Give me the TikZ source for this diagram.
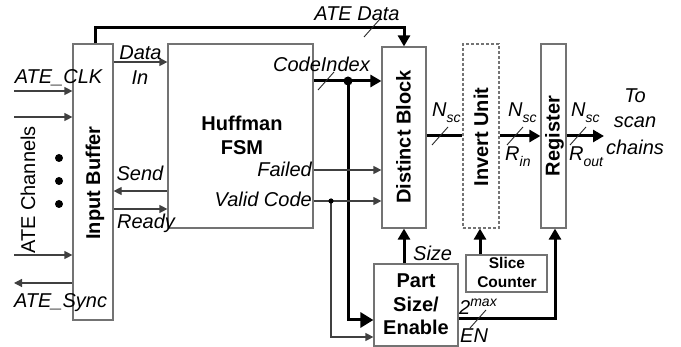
\documentclass[tikz,border=0pt]{standalone}
\usepackage{fontspec}
\setmainfont{Liberation Sans}
\usetikzlibrary{arrows.meta}
\newcommand{\lblsz}{\fontsize{20}{22}\selectfont}
\newcommand{\subsz}{\fontsize{14}{14}\selectfont}
\newcommand{\mysub}[1]{\raisebox{-5.5pt}{\subsz #1}}
\newcommand{\mysup}[1]{\raisebox{8pt}{\subsz #1}}
\begin{document}
\begin{tikzpicture}[x=1pt,y=-1pt,
  box/.style={draw=black!55,line width=1.2pt,inner sep=0pt,fill=white},
  lbl/.style={font=\lblsz\itshape,inner sep=0pt,anchor=base},
  up/.style={font=\lblsz,inner sep=0pt,anchor=base},
  bl/.style={font=\lblsz\bfseries,inner sep=0pt,anchor=base},
  wire/.style={draw=black!75,line width=1.2pt},
  bus/.style={draw=black,line width=3pt},
  tip/.style={-{Triangle[length=8pt,width=8pt]}},
  bigtip/.style={-{Triangle[length=11pt,width=12pt]}},
  hugetip/.style={-{Triangle[length=13pt,width=15pt]}},
  slash/.style={draw=black!85,line width=0.9pt},
  dot/.style={fill=black}
]
\useasboundingbox (0,0) rectangle (681,347);
% boxes
\node[box,minimum width=40pt,minimum height=276pt] (ib) at (93,182) {};
\node[box,minimum width=145pt,minimum height=184pt] (fsm) at (240.5,136) {};
\node[box,minimum width=44pt,minimum height=181pt] (db) at (404,137.5) {};
\node[box,dashed,dash pattern=on 3pt off 2pt,minimum width=36pt,minimum height=184pt] (iu) at (481,136) {};
\node[box,minimum width=25pt,minimum height=184pt] (rg) at (553.5,136) {};
\node[box,minimum width=84pt,minimum height=82pt] (ps) at (416,305) {};
\node[box,minimum width=81pt,minimum height=37pt] (sc) at (506.5,273.5) {};
% box texts
\node[bl,rotate=90] (ibt) at (100,183) {Input Buffer};
\node[bl] (fsmt1) at (242,131) {Huffman};
\node[bl] (fsmt2) at (242,155) {FSM};
\node[bl,rotate=90] (dbt) at (410.5,137) {Distinct Block};
\node[bl,rotate=90] (iut) at (488,137) {Invert Unit};
\node[bl,rotate=90] (rgt) at (559.5,136) {Register};
\node[bl] (pst1) at (416,288) {Part};
\node[bl] (pst2) at (416,312) {Size/};
\node[bl] (pst3) at (416,335) {Enable};
\node[bl,font=\fontsize{15.5}{17}\selectfont\bfseries] (sct1) at (507,269) {Slice};
\node[bl,font=\fontsize{15.5}{17}\selectfont\bfseries] (sct2) at (507,288) {Counter};
% left side inputs
\coordinate (c1) at (14,91);
\coordinate (c2) at (14,117);
\coordinate (c3) at (14,255);
\coordinate (c4) at (14,283);
\draw[wire,tip] (c1) -- (ib.west |- c1);
\draw[wire,tip] (c2) -- (ib.west |- c2);
\draw[wire,tip] (c3) -- (ib.west |- c3);
\draw[wire,tip] (ib.west |- c4) -- (c4);
\fill[dot] (59,158) circle (4) coordinate (d1);
\fill[dot] (59,181) circle (4) coordinate (d2);
\fill[dot] (59,204) circle (4) coordinate (d3);
\node[lbl] (lclk) at (58.5,84) {ATE\_CLK};
\node[lbl] (lsync) at (60.5,308) {ATE\_Sync};
\node[up,rotate=90] (lch) at (35,190) {ATE Channels};
% buffer <-> FSM
\draw[wire,tip] (ib.east |- 0,62) -- (fsm.west |- 0,62);
\draw[wire,tip] (fsm.west |- 0,191) -- (ib.east |- 0,191);
\draw[wire,tip] (ib.east |- 0,209) -- (fsm.west |- 0,209);
\node[lbl] (ldata) at (140.5,60) {Data};
\node[lbl] (lin) at (140,85) {In};
\node[lbl] (lsend) at (140,181) {Send};
\node[lbl] (lready) at (146,229) {Ready};
% ATE Data bus
\coordinate (ad1) at (95,28);
\draw[bus,bigtip] (ib.north -| ad1) -- (ad1) -| (db.north);
\draw[slash] (364,37) -- (380,19);
\node[lbl] (lated) at (357,21) {ATE Data};
% CodeIndex bus
\coordinate (j1) at (348,81);
\draw[bus,bigtip] (fsm.east |- j1) -- (db.west |- j1);
\draw[bus,hugetip] (j1) |- (ps.west |- 0,320);
\fill[dot] (j1) circle (4.5);
\draw[slash] (318,90) -- (334,72);
\node[lbl] (lcode) at (321.5,72) {CodeIndex};
% Failed / Valid Code
\draw[wire,tip] (fsm.east |- 0,170) -- (db.west |- 0,170);
\coordinate (j2) at (331,201);
\draw[wire,tip] (fsm.east |- j2) -- (db.west |- j2);
\draw[wire,tip] (j2) |- (ps.west |- 0,337);
\fill[dot] (j2) circle (2.6);
\node[lbl,anchor=base east] (lfail) at (312,177) {Failed};
\node[lbl,anchor=base east] (lvalid) at (312,207) {Valid Code};
% Size, Slice counter, EN
\draw[bus,bigtip] (ps.north -| db.south) -- (db.south);
\node[lbl,anchor=base west] (lsize) at (413,261) {Size};
\draw[bus,bigtip] (sc.north -| 480,0) -- (iu.south -| 480,0);
\draw[bus,bigtip] (ps.east |- 0,319) -| (rg.south -| 555,0);
\draw[slash] (470,328) -- (486,310);
\node[lbl,anchor=base west] (lmax) at (459,315) {2\mysup{max}};
\node[lbl,anchor=base west] (len) at (460,343) {EN};
% Nsc buses
\draw[bus] (db.east |- 0,136) -- (iu.west |- 0,136);
\draw[slash] (432,145) -- (448,127);
\node[lbl,anchor=base west] (ln1) at (432,117) {N\mysub{sc}};
\draw[bus,bigtip] (iu.east |- 0,136) -- (rg.west |- 0,136);
\draw[slash] (507,145) -- (523,127);
\node[lbl,anchor=base west] (ln2) at (508,117) {N\mysub{sc}};
\node[lbl,anchor=base west] (lrin) at (505,161) {R\mysub{in}};
\coordinate (out) at (604,136);
\draw[bus,bigtip] (rg.east |- out) -- (out);
\draw[slash] (570,145) -- (586,127);
\node[lbl,anchor=base west] (ln3) at (571,117) {N\mysub{sc}};
\node[lbl,anchor=base west] (lrout) at (569,161) {R\mysub{out}};
\node[lbl] (lto1) at (635,103) {To};
\node[lbl] (lto2) at (635,128) {scan};
\node[lbl] (lto3) at (635,155) {chains};
\end{tikzpicture}
\end{document}
